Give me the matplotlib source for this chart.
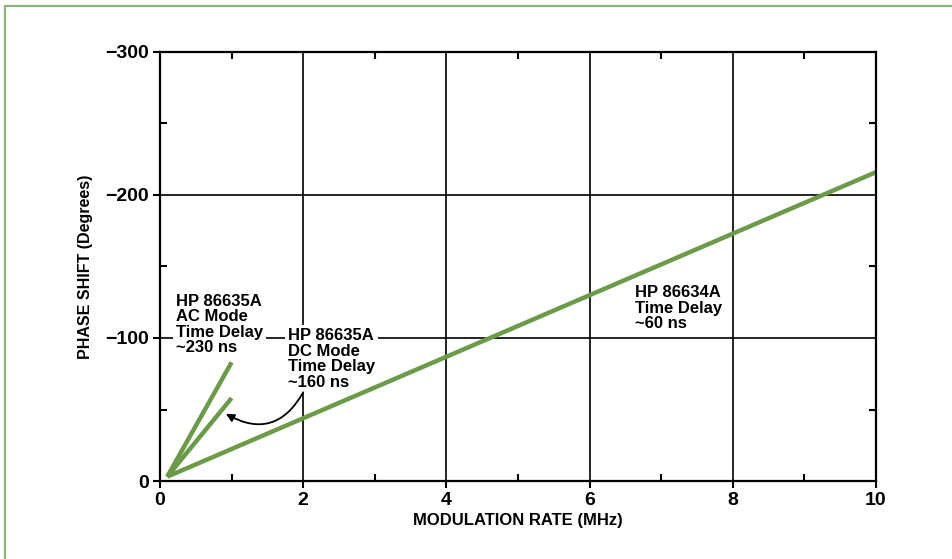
import matplotlib
matplotlib.use("Agg")
from matplotlib import pyplot as plt
from matplotlib.patches import Rectangle
from matplotlib.ticker import MultipleLocator

plt.rcParams['font.family'] = ['Liberation Sans', 'DejaVu Sans']
plt.rcParams['font.weight'] = 'bold'
plt.rcParams['axes.labelweight'] = 'bold'

# modulation rate (MHz) and phase shift (degrees) at the ends of each trace
ac_rate = [0.1, 1.0]
ac_phase = [-3, -83]
dc_rate = [0.1, 1.0]
dc_phase = [-3, -58]
hp34_rate = [0.1, 10.0]
hp34_phase = [-3, -216]

ac_label = "HP 86635A\nAC Mode\nTime Delay\n~230 ns"
dc_label = "HP 86635A\nDC Mode\nTime Delay\n~160 ns"
hp34_label = "HP 86634A\nTime Delay\n~60 ns"

x_ticks = [0, 2, 4, 6, 8, 10]
y_ticks = [0, -100, -200, -300]

green = "#6b9a48"
fig = plt.figure(figsize=(9.53, 5.59), dpi=100)
fig.patch.set_facecolor("white")

# green frame of the scanned page
fig.patches.append(Rectangle((5 / 953, -0.05), 1.2, 1.05 - 6 / 559,
                             transform=fig.transFigure, fill=False,
                             edgecolor="#8fb477", linewidth=1.6, zorder=0))

ax = fig.add_axes([160 / 953, 78 / 559, 716 / 953, 429 / 559])
ax.plot(ac_rate, ac_phase, color=green, lw=3.2, solid_capstyle='butt')
ax.plot(dc_rate, dc_phase, color=green, lw=3.2, solid_capstyle='butt')
ax.plot(hp34_rate, hp34_phase, color=green, lw=3.2, solid_capstyle='butt')

ax.set_xlim(0, 10)
ax.set_ylim(0, -300)
ax.set_xticks(x_ticks)
ax.set_yticks(y_ticks)
ax.set_yticklabels(["0", "\u2212100", "\u2212200", "\u2212300"])
ax.xaxis.set_minor_locator(MultipleLocator(1))
ax.yaxis.set_minor_locator(MultipleLocator(50))
ax.tick_params(which='major', direction='out', length=5, width=1.5,
               labelsize=14, pad=3, top=False, right=False)
ax.tick_params(which='minor', direction='in', length=5, width=1.5,
               top=True, right=True)
ax.grid(True, which='major', color='black', lw=1.2)
for s in ax.spines.values():
    s.set_linewidth(1.6)

ax.set_xlabel("MODULATION RATE (MHz)", fontsize=12, labelpad=3)
ax.set_ylabel("PHASE SHIFT (Degrees)", fontsize=11.5, labelpad=9)

# labels sit above the grid but below the traces
box = dict(facecolor='white', edgecolor='none', pad=2)
ax.text(0.22, -131, ac_label, fontsize=12, va='top', ha='left', linespacing=1.05,
        zorder=1.8, bbox=box)
ax.text(1.79, -107, dc_label, fontsize=12, va='top', ha='left', linespacing=1.05,
        zorder=1.8, bbox=box)
ax.text(6.63, -137, hp34_label, fontsize=12, va='top', ha='left', linespacing=1.05,
        zorder=1.8, bbox=box)

ax.annotate("", xy=(0.92, -47), xytext=(2.0, -62),
            arrowprops=dict(arrowstyle='-|>', connectionstyle='arc3,rad=-0.5',
                            color='black', lw=1.3, mutation_scale=12,
                            shrinkA=0, shrinkB=0))

fig.savefig("out.png", dpi=100)
